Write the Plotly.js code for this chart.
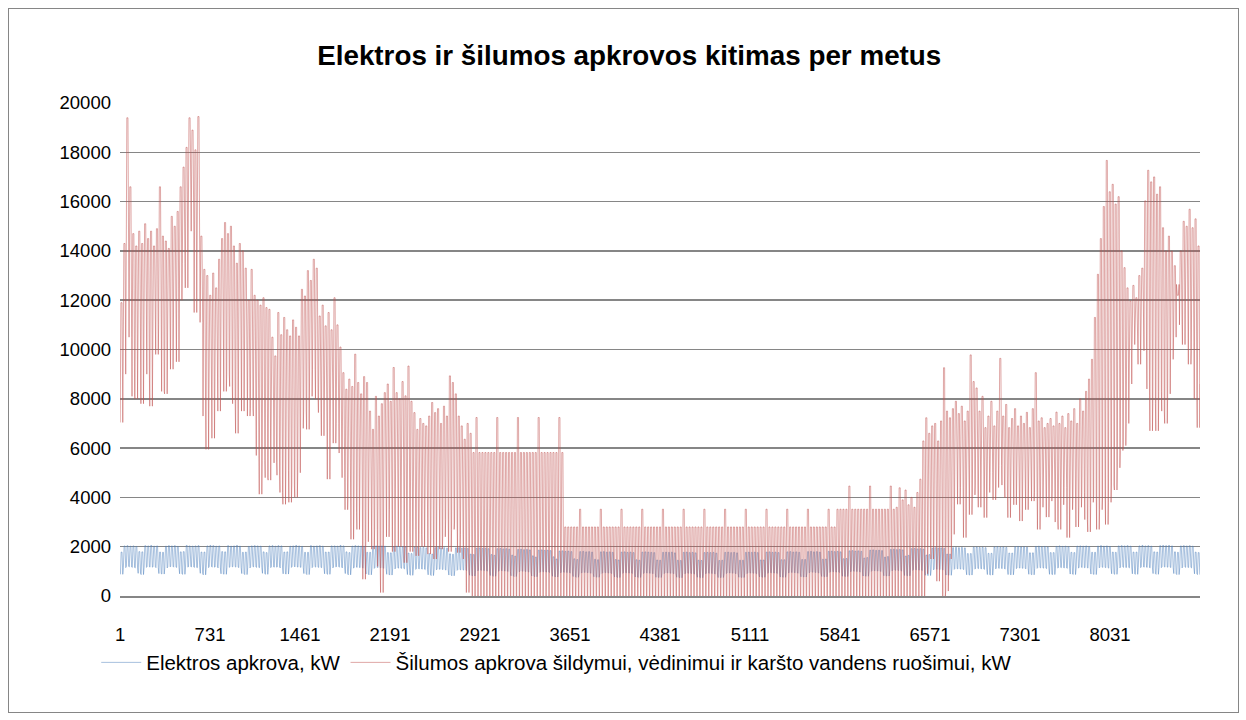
<!DOCTYPE html>
<html>
<head>
<meta charset="utf-8">
<script src="https://cdn.plot.ly/plotly-3.0.1.min.js"></script>
<style>
  html, body { margin: 0; padding: 0; background: #ffffff; }
  #chart { position: absolute; left: 0; top: 0; width: 1246px; height: 720px; }
  #frame { position: absolute; left: 8px; top: 8px; width: 1229px; height: 703px; border: 1px solid #868686; pointer-events: none; }
</style>
</head>
<body>
<div id="chart"></div>
<div id="frame"></div>
<script>
// ---------- DATA ----------
const chartTitle = "Elektros ir šilumos apkrovos kitimas per metus";
const seriesNames = ["Elektros apkrova, kW", "Šilumos apkrova šildymui, vėdinimui ir karšto vandens ruošimui, kW"];
const xTickVals = [1, 731, 1461, 2191, 2921, 3651, 4381, 5111, 5841, 6571, 7301, 8031];
const xTickLabels = ["1", "731", "1461", "2191", "2921", "3651", "4381", "5111", "5841", "6571", "7301", "8031"];
const yTickVals = [0, 2000, 4000, 6000, 8000, 10000, 12000, 14000, 16000, 18000, 20000];
const yTickLabels = ["0", "2000", "4000", "6000", "8000", "10000", "12000", "14000", "16000", "18000", "20000"];

// Heat load: daily peak (kW), one value per day of the year
const heatHigh = [
  11900,14300,19400,16600,14700,14200,14800,14300,15100,14500,
  14800,14200,14900,16600,14600,14400,14100,15400,15000,15600,
  16600,17400,18200,19400,18900,18100,19450,14600,13250,13000,
  12200,13100,12500,13660,14500,15150,14700,15000,14200,13500,
  14300,14000,13300,12000,13250,12200,12000,11800,12100,11700,
  11630,10500,9740,11500,10600,11300,10800,10550,11200,10900,
  10550,12440,12170,13200,12800,13660,13300,11360,11800,10960,
  11500,10800,12100,11000,10100,9060,8390,8800,8500,9810,
  8660,8200,8900,8660,7500,6760,8100,7300,7800,8250,
  8600,7900,9270,8250,8000,8700,8120,9330,7900,7440,
  6760,7200,7000,6900,7300,7850,7440,7600,7000,7700,
  7300,8930,8660,8200,7300,6900,6360,7000,6600,
  5820,7240,5820,5820,5820,5820,5820,5820,7240,5820,5820,5820,5820,5820,5820,7240,
  5820,5820,5820,5820,5820,5820,7240,5820,5820,5820,5820,5820,5820,7240,5820,
  2800,2800,2800,2800,2800,3520,
  2800,2800,2800,2800,2800,2800,3520,
  2800,2800,2800,2800,2800,2800,3520,
  2800,2800,2800,2800,2800,2800,3520,
  2800,2800,2800,2800,2800,2800,3520,
  2800,2800,2800,2800,2800,2800,3520,
  2800,2800,2800,2800,2800,2800,3520,
  2800,2800,2800,2800,2800,2800,3520,
  2800,2800,2800,2800,2800,2800,3520,
  2800,2800,2800,2800,2800,2800,3520,
  2800,2800,2800,2800,2800,2800,3520,
  2800,2800,2800,2800,2800,2800,3520,
  2800,2800,2800,2800,2800,2800,3520,
  2800,2800,
  3520,3520,3520,3520,4460,3520,3520,3520,3520,3520,3520,4460,3520,3520,3520,3520,3520,3520,4460,3520,
  3600,4390,3900,4300,3700,4000,3600,4200,
  4740,6290,7230,6600,6900,7000,6290,7100,9260,7500,
  7230,7600,7900,7400,7700,7100,7500,9780,8700,8440,
  7500,8100,6830,7300,7900,6900,7500,9640,7300,7770,
  6830,7200,7600,6900,7300,7000,7450,6830,7600,9060,
  7100,7230,6830,7000,7200,6900,7460,7000,7300,6830,
  7400,7100,7600,7000,8000,7500,8300,8800,9600,11300,
  13050,14500,15800,17670,16400,16700,15900,16200,14000,13320,
  12500,11970,12600,12100,13000,13300,16030,17270,16800,17000,
  16300,16600,14940,14000,14600,13990,13400,12200,14000,15200,
  15000,15690,14940,15300,14200
];

// Heat load: daily minimum (kW), one value per day of the year
const heatLow = [
  7040,9000,12000,10500,8100,8000,9500,7800,10200,9000,
  7700,10800,9800,11000,8300,8200,10500,9200,11000,9500,
  12000,13500,12500,15000,14800,11500,14000,11100,7300,5950,
  8100,6400,8300,7500,8900,8300,9000,8500,7800,6600,
  8400,7500,8700,7300,7600,7300,5700,4130,5500,4800,
  4700,5900,5400,4900,4200,3720,5100,3800,4500,4000,
  5000,6800,7500,6760,8100,9200,8000,7440,6500,7900,
  4740,6900,6200,7000,5800,4800,3500,4060,2300,3400,
  2700,3800,680,2200,3300,1900,2710,1200,140,3000,
  2400,3500,1800,3100,2000,3400,1350,2600,1800,2710,
  1630,2500,2000,3000,1700,2300,1500,2800,1900,2400,
  3100,1800,2700,3000,1760,2500,1500,140,1000,
  0,0,0,0,0,0,0,0,0,0,0,0,0,0,0,0,0,0,0,0,0,0,0,0,0,0,0,0,0,0,0,
  0,0,0,0,0,0,0,0,0,0,0,0,0,0,0,0,0,0,0,0,0,0,0,0,0,0,0,0,0,0,
  0,0,0,0,0,0,0,0,0,0,0,0,0,0,0,0,0,0,0,0,0,0,0,0,0,0,0,0,0,0,
  0,0,0,0,0,0,0,0,0,0,0,0,0,0,0,0,0,0,0,0,0,0,0,0,0,0,0,0,0,0,
  0,0,0,0,0,0,0,0,0,0,0,0,0,0,0,0,0,0,0,0,0,0,0,0,0,0,0,0,0,0,0,0,
  900,2000,1500,2200,600,1800,0,200,
  1500,2500,4300,3720,4400,2370,4000,3300,4100,4500,
  3600,4900,3180,4200,5000,3900,4400,5300,4500,3990,
  3180,4600,3700,4500,3040,4000,3500,4300,3850,4200,
  2700,3600,4400,3200,3850,4300,3000,2700,3700,4400,
  2370,3500,4000,2800,3600,4200,3100,2600,3800,4100,
  2700,3500,4000,2900,3800,4500,4300,5200,5900,6100,
  7000,8600,10200,11000,9400,11500,9950,8400,6700,7800,
  6700,8300,7500,7000,8200,9600,10500,12640,11000,10200,
  12000,9400,9950,8000,6830,8600,7700,5140,8400,9000,
  8600,10100,8050,8900,12000
];

// Electricity load: daily peak (kW), one row per week
const elecHighWeeks = [
  [1780,2030,2040,2020,2030,2010,1800],[1790,2040,2030,2050,2020,2030,1780],
  [1770,2020,2040,2030,2040,2010,1790],[1800,2050,2030,2020,2030,2040,1780],
  [1780,2030,2050,2040,2020,2030,1800],[1790,2040,2020,2030,2050,2020,1770],
  [1780,2010,2030,2040,2030,2020,1790],[1760,2030,2040,2020,2040,2030,1780],
  [1790,2020,2030,2050,2030,2010,1770],[1770,2040,2020,2030,2040,2020,1780],
  [1780,2030,2030,2020,2050,2030,1790],[1760,2020,2040,2030,2020,2010,1770],
  [1770,2010,2030,2020,2030,2020,1760],[1750,2000,2020,2010,2000,1990,1740],
  [1720,1980,1970,1960,1970,1950,1720],[1700,1960,1970,1950,1960,1940,1710],
  [1690,1950,1960,1940,1950,1930,1700],[1680,1940,1950,1930,1940,1920,1680],
  [1650,1920,1930,1910,1920,1900,1660],[1620,1890,1900,1880,1890,1870,1630],
  [1580,1860,1870,1850,1860,1840,1590],[1500,1820,1830,1810,1820,1800,1510],
  [1480,1800,1810,1790,1800,1780,1490],[1470,1790,1800,1780,1790,1770,1480],
  [1460,1780,1790,1770,1780,1760,1470],[1450,1780,1790,1780,1770,1760,1460],
  [1450,1770,1780,1770,1780,1750,1450],[1440,1770,1780,1760,1770,1750,1450],
  [1440,1760,1770,1760,1770,1740,1440],[1450,1770,1780,1760,1770,1750,1450],
  [1450,1770,1780,1770,1780,1760,1460],[1460,1780,1790,1770,1780,1760,1470],
  [1470,1790,1800,1780,1790,1770,1480],[1480,1800,1810,1790,1800,1780,1490],
  [1500,1810,1820,1800,1810,1790,1510],[1520,1830,1840,1820,1830,1810,1540],
  [1560,1860,1870,1850,1860,1840,1580],[1600,1890,1900,1880,1890,1870,1620],
  [1650,1920,1930,1910,1920,1900,1660],[1680,1940,1960,1940,1950,1930,1700],
  [1700,1960,1970,1960,1970,1950,1720],[1720,1980,1990,1970,1980,1960,1730],
  [1730,1990,2000,1980,1990,1970,1740],[1740,2000,2010,1990,2000,1980,1750],
  [1750,2010,2020,2000,2010,1990,1760],[1760,2010,2030,2010,2020,2000,1770],
  [1760,2020,2030,2020,2030,2010,1770],[1770,2020,2040,2020,2030,2010,1780],
  [1770,2030,2040,2030,2040,2020,1780],[1780,2030,2050,2030,2040,2020,1790],
  [1780,2040,2050,2040,2050,2030,1790],[1770,2030,2040,2030,2040,2020,1780],
  [1760]
];

// Electricity load: daily minimum (kW), one row per week
const elecLowWeeks = [
  [880,1150,1200,1180,1160,1140,920],[870,1160,1190,1170,1180,1150,910],
  [890,1140,1180,1200,1170,1160,900],[880,1170,1190,1180,1160,1150,920],
  [860,1150,1200,1170,1180,1140,900],[880,1160,1180,1190,1170,1150,910],
  [870,1140,1190,1180,1160,1150,920],[880,1150,1180,1170,1180,1140,900],
  [890,1160,1200,1180,1170,1160,910],[870,1150,1190,1170,1160,1150,900],
  [880,1140,1180,1190,1170,1140,910],[860,1130,1170,1160,1150,1130,890],
  [860,1120,1160,1150,1140,1120,880],[850,1100,1140,1130,1120,1100,870],
  [840,1080,1110,1100,1090,1070,860],[830,1060,1090,1080,1070,1050,850],
  [820,1040,1070,1060,1050,1030,840],[810,1020,1050,1040,1030,1010,830],
  [800,1000,1030,1020,1010,990,820],[790,980,1010,1000,990,970,810],
  [780,960,990,980,970,950,800],[770,940,970,960,950,930,790],
  [760,930,960,950,940,920,780],[760,920,950,940,930,910,770],
  [750,920,950,940,930,910,770],[750,910,940,930,920,900,760],
  [750,910,940,930,920,900,760],[740,900,930,920,910,890,760],
  [740,900,930,920,910,890,750],[750,910,940,930,920,900,760],
  [750,910,940,930,920,900,770],[760,920,950,940,930,910,770],
  [760,930,960,950,940,920,780],[770,940,970,960,950,930,790],
  [780,960,990,980,970,950,800],[790,980,1010,1000,990,970,810],
  [800,1000,1030,1020,1010,990,820],[810,1020,1050,1040,1030,1010,830],
  [820,1040,1070,1060,1050,1030,840],[830,1060,1090,1080,1070,1050,850],
  [840,1080,1110,1100,1090,1070,860],[850,1090,1120,1110,1100,1080,870],
  [850,1100,1130,1120,1110,1090,870],[860,1110,1140,1130,1120,1100,880],
  [860,1120,1150,1140,1130,1110,880],[870,1130,1160,1150,1140,1120,890],
  [870,1130,1170,1150,1150,1130,890],[870,1140,1170,1160,1150,1130,900],
  [880,1140,1180,1160,1160,1140,900],[880,1150,1180,1170,1160,1140,910],
  [880,1150,1190,1170,1170,1150,910],[870,1140,1180,1160,1160,1140,900],
  [870]
];

// ---------- BUILD HOURLY-POSITIONED TRACES ----------
const elecHigh = elecHighWeeks.flat();
const elecLow = elecLowWeeks.flat();

// within-day sample hours and whether each takes the day's low or high
function buildDaily(lowArr, highArr, pattern) {
  const x = [], y = [];
  for (let d = 0; d < lowArr.length; d++) {
    for (const [h, which] of pattern) {
      x.push(d * 24 + h + 1);
      y.push(which === 'h' ? highArr[d] : lowArr[d]);
    }
  }
  return { x, y };
}

const elec = buildDaily(elecLow, elecHigh, [[3, 'l'], [9, 'h'], [16, 'h'], [22, 'l']]);
const heat = buildDaily(heatLow, heatHigh, [[1, 'l'], [7, 'h'], [16, 'h'], [22, 'l']]);

const FONT = "Liberation Sans, Arial, sans-serif";

const traces = [
  {
    x: elec.x, y: elec.y, type: 'scatter', mode: 'lines', name: seriesNames[0],
    line: { color: 'rgba(79,129,189,0.5)', width: 1 }
  },
  {
    x: heat.x, y: heat.y, type: 'scatter', mode: 'lines', name: seriesNames[1],
    line: { color: 'rgba(192,80,77,0.5)', width: 1 }
  }
];

const layout = {
  width: 1246, height: 720,
  paper_bgcolor: '#ffffff', plot_bgcolor: '#ffffff',
  margin: { l: 120, r: 46, t: 103, b: 124 },
  font: { family: FONT, size: 18, color: '#000000' },
  title: {
    text: chartTitle,
    font: { family: FONT, size: 27.8, weight: 700, color: '#000000' },
    x: 0.505, xref: 'container', xanchor: 'center',
    y: 1 - 55 / 720, yref: 'container', yanchor: 'middle'
  },
  xaxis: {
    range: [0.5, 8760.5],
    tickmode: 'array', tickvals: xTickVals, ticktext: xTickLabels,
    showgrid: false, zeroline: false,
    showline: true, linecolor: '#868686', linewidth: 1.5,
    ticks: '', ticklabelstandoff: 21,
    tickfont: { family: FONT, size: 18.5, color: '#000000' }
  },
  yaxis: {
    range: [0, 20000],
    tickmode: 'array', tickvals: yTickVals, ticktext: yTickLabels,
    showgrid: true, gridcolor: '#868686', gridwidth: 1.5,
    zeroline: false, showline: false,
    ticks: '', ticklabelstandoff: 8,
    tickfont: { family: FONT, size: 18.5, color: '#000000' }
  },
  showlegend: true,
  legend: {
    orientation: 'h',
    x: -0.022, xanchor: 'left',
    y: -0.135, yanchor: 'middle',
    font: { family: FONT, size: 20.5, color: '#000000' },
    bgcolor: 'rgba(0,0,0,0)',
    itemwidth: 40
  }
};

Plotly.newPlot('chart', traces, layout, { displayModeBar: false, staticPlot: true });
</script>
</body>
</html>
